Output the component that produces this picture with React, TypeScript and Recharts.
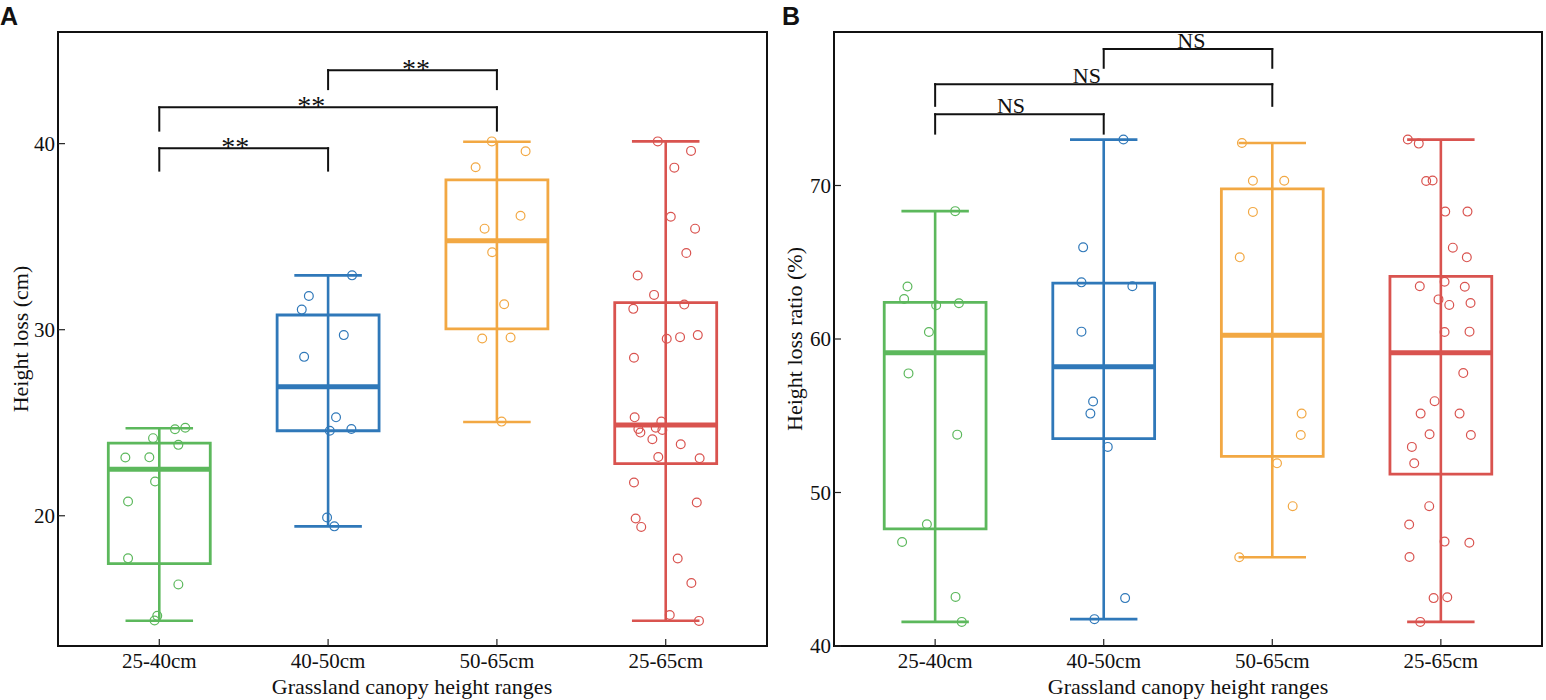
import React from "react";
import { ComposedChart, XAxis, YAxis, Scatter, ReferenceArea, ReferenceLine } from "recharts";

const SERIF = "'Liberation Serif', 'Times New Roman', serif";

const categories = ["25-40cm", "40-50cm", "50-65cm", "25-65cm"];
const colors = ["#5cb85c", "#2f78b9", "#f2a843", "#d9534f"];

// Panel A – height loss (cm); jitter = horizontal offset of each point in category units
const lossGreen = [24.65, 24.73, 24.17, 23.81, 23.13, 23.14, 21.84, 20.77, 17.71, 16.31, 14.62, 14.37];
const lossGreenJitter = [0.093, 0.154, -0.037, 0.113, -0.201, -0.059, -0.025, -0.185, -0.185, 0.113, -0.012, -0.028];
const lossBlue = [32.92, 31.81, 31.08, 29.71, 28.54, 25.29, 24.57, 24.66, 19.91, 19.43];
const lossBlueJitter = [0.142, -0.114, -0.156, 0.093, -0.142, 0.047, 0.01, 0.138, -0.006, 0.037];
const lossOrange = [40.12, 39.59, 38.73, 36.12, 35.43, 34.16, 31.37, 29.53, 29.58, 25.06];
const lossOrangeJitter = [-0.03, 0.17, -0.126, 0.14, -0.073, -0.028, 0.043, -0.087, 0.081, 0.028];
const lossAll = [
  40.12, 39.61, 38.71, 36.07, 35.43, 34.12, 32.91, 31.87, 31.12, 31.35, 29.51, 29.6, 29.71, 28.49, 25.29, 25.06,
  24.66, 24.73, 24.61, 24.47, 24.11, 23.84, 23.16, 23.09, 21.79, 20.71, 19.85, 19.4, 17.7, 16.39, 14.67, 14.35,
];
const lossAllJitter = [
  -0.047, 0.15, 0.051, 0.03, 0.174, 0.122, -0.166, -0.069, -0.192, 0.11, 0.006, 0.085, 0.19, -0.188, -0.184, -0.026,
  -0.162, -0.059, -0.02, -0.15, -0.079, 0.089, -0.044, 0.201, -0.188, 0.184, -0.178, -0.145, 0.071, 0.152, 0.024, 0.197,
];
const lossMin = [14.36, 19.43, 25.04, 14.36];
const lossQ1 = [17.43, 24.57, 30.04, 22.8];
const lossMedian = [22.5, 26.93, 34.78, 24.88];
const lossQ3 = [23.9, 30.79, 38.05, 31.46];
const lossMax = [24.7, 32.92, 40.1, 40.12];
const lossTicks = [20, 30, 40];
const lossBrackets = [
  { from: 1, to: 2, top: 39.75, foot: 38.55, label: "**", labelX: 1.45 },
  { from: 1, to: 3, top: 41.95, foot: 40.7, label: "**", labelX: 1.9 },
  { from: 2, to: 3, top: 43.95, foot: 42.93, label: "**", labelX: 2.52 },
];

// Panel B – height loss ratio (%)
const ratioGreen = [68.33, 63.42, 62.61, 62.2, 62.33, 60.46, 57.76, 53.77, 47.93, 46.78, 43.2, 41.57];
const ratioGreenJitter = [0.119, -0.164, -0.184, 0.006, 0.141, -0.037, -0.158, 0.131, -0.049, -0.196, 0.121, 0.158];
const ratioBlue = [73.0, 65.97, 63.69, 63.44, 60.48, 55.93, 55.14, 52.97, 43.12, 41.75];
const ratioBlueJitter = [0.117, -0.122, -0.132, 0.17, -0.132, -0.063, -0.079, 0.024, 0.127, -0.055];
const ratioOrange = [72.77, 70.31, 70.31, 68.28, 65.32, 55.14, 53.75, 51.9, 49.11, 45.78];
const ratioOrangeJitter = [-0.18, -0.115, 0.071, -0.115, -0.193, 0.174, 0.169, 0.028, 0.121, -0.196];
const ratioAll = [
  73.0, 72.73, 70.29, 70.33, 68.3, 68.3, 65.95, 65.32, 63.73, 63.44, 63.4, 62.58, 62.22, 62.35, 60.46, 60.48,
  57.78, 55.95, 55.14, 55.14, 53.79, 53.75, 52.97, 51.9, 49.11, 47.91, 46.8, 46.73, 45.8, 43.12, 43.18, 41.57,
];
const ratioAllJitter = [
  -0.196, -0.131, -0.087, -0.049, 0.026, 0.158, 0.071, 0.154, 0.022, -0.125, 0.142, -0.014, 0.05, 0.176, 0.022, 0.17,
  0.133, -0.037, -0.12, 0.111, -0.067, 0.178, -0.172, -0.158, -0.069, -0.188, 0.022, 0.169, -0.186, -0.043, 0.038, -0.122,
];
const ratioMin = [41.57, 41.75, 45.78, 41.57];
const ratioQ1 = [47.63, 53.51, 52.35, 51.2];
const ratioMedian = [59.11, 58.2, 60.24, 59.11];
const ratioQ3 = [62.38, 63.64, 69.78, 64.08];
const ratioMax = [68.33, 72.99, 72.77, 72.99];
const ratioTicks = [40, 50, 60, 70];
const ratioBrackets = [
  { from: 1, to: 2, top: 74.64, foot: 73.38, label: "NS", labelX: 1.45 },
  { from: 1, to: 3, top: 76.6, foot: 75.19, label: "NS", labelX: 1.9 },
  { from: 2, to: 3, top: 78.89, foot: 77.67, label: "NS", labelX: 2.52 },
];

const BOX_HALF = 0.302;
const CAP_HALF = 0.2;

function XTick(props: any) {
  const { x, y, payload } = props;
  return (
    <g>
      <line x1={x} x2={x} y1={y} y2={y - 7} stroke="#222" strokeWidth={1.2} />
      <text x={x} y={y + 22} textAnchor="middle" fontSize={21} fontFamily={SERIF} fill="#111">
        {categories[payload.value - 1]}
      </text>
    </g>
  );
}

function YTick(props: any) {
  const { x, y, payload } = props;
  return (
    <g>
      <line x1={x} x2={x + 7} y1={y} y2={y} stroke="#222" strokeWidth={1.2} />
      <text x={x - 3} y={y + 7} textAnchor="end" fontSize={21} fontFamily={SERIF} fill="#111">
        {payload.value}
      </text>
    </g>
  );
}

interface PanelProps {
  left: number;
  yWidth: number;
  marginRight: number;
  domain: [number, number];
  ticks: number[];
  groups: number[][];
  jitters: number[][];
  mins: number[];
  q1s: number[];
  medians: number[];
  q3s: number[];
  maxs: number[];
  brackets: { from: number; to: number; top: number; foot: number; label: string; labelX: number }[];
  labelSize: number;
  labelDy: number;
}

function BoxPanel(p: PanelProps) {
  const items: React.ReactNode[] = [];

  p.groups.forEach((vals, i) => {
    const c = i + 1;
    const color = colors[i];
    items.push(
      <ReferenceArea key={`box${i}`} x1={c - BOX_HALF} x2={c + BOX_HALF} y1={p.q1s[i]} y2={p.q3s[i]}
        fill="none" fillOpacity={0} stroke={color} strokeWidth={2.8} ifOverflow="visible" />,
      <ReferenceLine key={`wh${i}`} segment={[{ x: c, y: p.mins[i] }, { x: c, y: p.maxs[i] }]}
        stroke={color} strokeWidth={2.6} ifOverflow="visible" />,
      <ReferenceLine key={`capt${i}`} segment={[{ x: c - CAP_HALF, y: p.maxs[i] }, { x: c + CAP_HALF, y: p.maxs[i] }]}
        stroke={color} strokeWidth={2.6} ifOverflow="visible" />,
      <ReferenceLine key={`capb${i}`} segment={[{ x: c - CAP_HALF, y: p.mins[i] }, { x: c + CAP_HALF, y: p.mins[i] }]}
        stroke={color} strokeWidth={2.6} ifOverflow="visible" />,
      <ReferenceLine key={`med${i}`} segment={[{ x: c - BOX_HALF, y: p.medians[i] }, { x: c + BOX_HALF, y: p.medians[i] }]}
        stroke={color} strokeWidth={5} ifOverflow="visible" />,
      <Scatter key={`pts${i}`} data={vals.map((v, k) => ({ x: c + p.jitters[i][k], y: v }))}
        isAnimationActive={false}
        shape={(s: any) => <circle cx={s.cx} cy={s.cy} r={4.4} fill="none" stroke={color} strokeWidth={1.2} />} />
    );
  });

  p.brackets.forEach((b, i) => {
    const segs = [
      [{ x: b.from, y: b.foot }, { x: b.from, y: b.top }],
      [{ x: b.from, y: b.top }, { x: b.to, y: b.top }],
      [{ x: b.to, y: b.top }, { x: b.to, y: b.foot }],
    ];
    segs.forEach((seg, k) =>
      items.push(
        <ReferenceLine key={`br${i}-${k}`} segment={seg} stroke="#111" strokeWidth={2}
          strokeLinecap="square" ifOverflow="visible" />
      )
    );
  });

  items.push(
    <Scatter key="labels" data={p.brackets.map((b) => ({ x: b.labelX, y: b.top, label: b.label }))}
      isAnimationActive={false}
      shape={(s: any) => (
        <text x={s.cx} y={s.cy + p.labelDy} textAnchor="middle" fontSize={p.labelSize} fontFamily={SERIF} fill="#111">
          {s.payload.label}
        </text>
      )} />
  );

  return (
    <div style={{ position: "absolute", left: p.left, top: 0 }}>
      <ComposedChart width={773} height={700} margin={{ top: 32, right: p.marginRight, bottom: 0, left: 0 }}>
        <XAxis type="number" dataKey="x" domain={[0.4, 4.6]} ticks={[1, 2, 3, 4]} interval={0}
          allowDataOverflow height={54} axisLine={false} tickLine={false} tickSize={0} tickMargin={0}
          tick={(t: any) => <XTick {...t} />} />
        <YAxis type="number" dataKey="y" domain={p.domain} ticks={p.ticks} interval={0}
          allowDataOverflow width={p.yWidth} axisLine={false} tickLine={false} tickSize={0} tickMargin={0}
          tick={(t: any) => <YTick {...t} />} />
        <ReferenceArea x1={0.4} x2={4.6} y1={p.domain[0]} y2={p.domain[1]} fill="none" fillOpacity={0}
          stroke="#111" strokeWidth={2} ifOverflow="visible" />
        {items}
      </ComposedChart>
    </div>
  );
}

export default function App() {
  return (
    <div style={{ position: "absolute", left: 0, top: 0, width: 1546, height: 700, background: "#fff" }}>
      <BoxPanel left={0} yWidth={58} marginRight={6} domain={[13, 46]} ticks={lossTicks}
        groups={[lossGreen, lossBlue, lossOrange, lossAll]}
        jitters={[lossGreenJitter, lossBlueJitter, lossOrangeJitter, lossAllJitter]}
        mins={lossMin} q1s={lossQ1} medians={lossMedian} q3s={lossQ3} maxs={lossMax}
        brackets={lossBrackets} labelSize={28} labelDy={8} />
      <BoxPanel left={773} yWidth={61} marginRight={4} domain={[40, 80]} ticks={ratioTicks}
        groups={[ratioGreen, ratioBlue, ratioOrange, ratioAll]}
        jitters={[ratioGreenJitter, ratioBlueJitter, ratioOrangeJitter, ratioAllJitter]}
        mins={ratioMin} q1s={ratioQ1} medians={ratioMedian} q3s={ratioQ3} maxs={ratioMax}
        brackets={ratioBrackets} labelSize={22} labelDy={-1.5} />
      <svg width={1546} height={700} style={{ position: "absolute", left: 0, top: 0, pointerEvents: "none" }}>
        <text x={0} y={25} fontSize={25} fontWeight="bold" fontFamily="'Liberation Sans', Arial, sans-serif" fill="#111">A</text>
        <text x={782} y={25} fontSize={25} fontWeight="bold" fontFamily="'Liberation Sans', Arial, sans-serif" fill="#111">B</text>
        <text x={412} y={694} textAnchor="middle" fontSize={22} fontFamily={SERIF} fill="#111">Grassland canopy height ranges</text>
        <text x={1188} y={694} textAnchor="middle" fontSize={22} fontFamily={SERIF} fill="#111">Grassland canopy height ranges</text>
        <text x={28} y={339} transform="rotate(-90 28 339)" textAnchor="middle" fontSize={22} fontFamily={SERIF} fill="#111">Height loss (cm)</text>
        <text x={802} y={339} transform="rotate(-90 802 339)" textAnchor="middle" fontSize={22} fontFamily={SERIF} fill="#111">Height loss ratio (%)</text>
      </svg>
    </div>
  );
}
